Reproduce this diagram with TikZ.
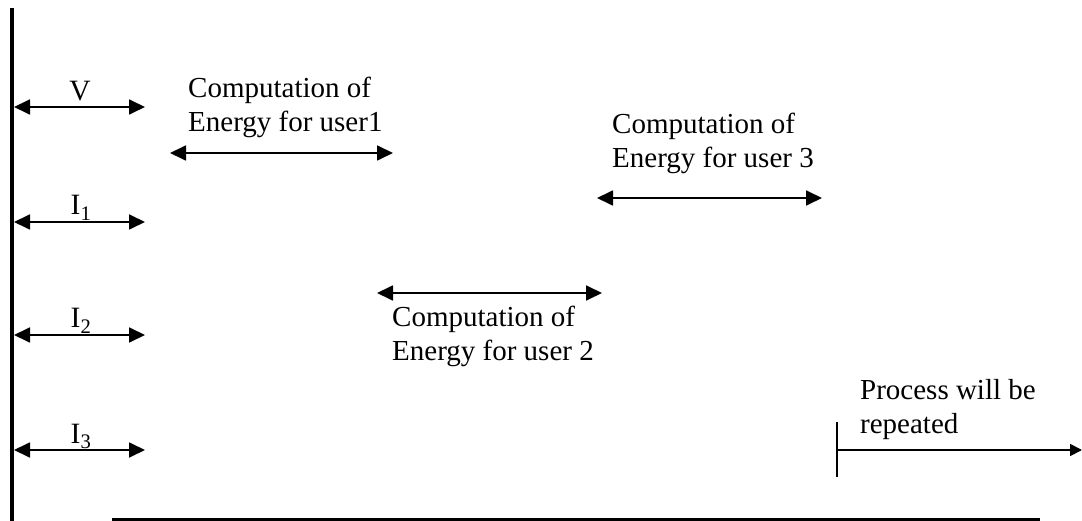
\documentclass[tikz,border=0pt]{standalone}
\usepackage{fontspec}
\setmainfont{Liberation Serif}
\usetikzlibrary{arrows.meta}
\begin{document}
\begin{tikzpicture}[x=1pt,y=-1pt,
  dblarrow/.style={line width=1.8pt,{Triangle[length=16pt,width=15pt]}-{Triangle[length=16pt,width=15pt]}},
  onearrow/.style={line width=1.8pt,-{Triangle[length=12pt,width=12pt]}},
  lbl/.style={inner sep=0pt,anchor=base,font=\fontsize{29.5}{34}\selectfont},
  txt/.style={inner sep=0pt,anchor=base west,align=left,font=\fontsize{29}{34}\selectfont}]
\useasboundingbox (0,0) rectangle (1082,521);
% axes
\coordinate (axtop) at (12,8);
\coordinate (axbot) at (12,521);
\draw[line width=4pt] (axtop) -- (axbot);
\coordinate (bl) at (112,519);
\coordinate (br) at (1040,519);
\draw[line width=3pt] (bl) -- (br);
% left arrows
\foreach \n/\y in {v/107,ia/222,ib/335,ic/450}{
  \coordinate (\n L) at (14,\y);
  \coordinate (\n R) at (145,\y);
  \draw[dblarrow] (\n L) -- (\n R);
}
\node[lbl] (vlab) at (80,101) {V};
\node[lbl] (ialab) at (81,215) {I\textsubscript{1}};
\node[lbl] (iblab) at (81,328) {I\textsubscript{2}};
\node[lbl] (iclab) at (81,443) {I\textsubscript{3}};
% user arrows
\coordinate (u1L) at (170,153);
\coordinate (u1R) at (393,153);
\draw[dblarrow] (u1L) -- (u1R);
\node[txt] (u1txt) at (188,132) {Computation of\\Energy for user1};
\coordinate (u2L) at (377,293);
\coordinate (u2R) at (602,293);
\draw[dblarrow] (u2L) -- (u2R);
\node[txt] (u2txt) at (392,360) {Computation of\\Energy for user 2};
\coordinate (u3L) at (597,198);
\coordinate (u3R) at (822,198);
\draw[dblarrow] (u3L) -- (u3R);
\node[txt] (u3txt) at (612,168) {Computation of\\Energy for user 3};
% process repeated
\coordinate (tkT) at (837,422);
\coordinate (tkB) at (837,477);
\draw[line width=1.8pt] (tkT) -- (tkB);
\coordinate (prS) at (837,450);
\coordinate (prE) at (1082,450);
\draw[onearrow] (prS) -- (prE);
\node[txt] (prtxt) at (860,433) {Process will be\\repeated};
\end{tikzpicture}
\end{document}
